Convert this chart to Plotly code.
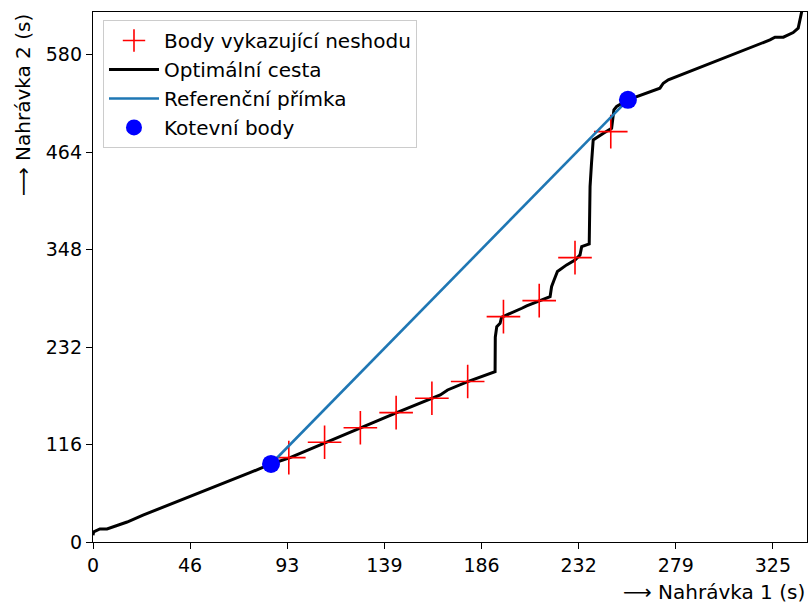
import plotly.graph_objects as go

# Optimal path (black)
path_x = [0, 0.3, 3.3, 6.7, 16.3, 23.9, 75.0, 85.1, 94.2, 128.0, 145.2, 166.0, 168.0, 169.5,
          179.1, 192.2, 192.3, 193.0, 194.6, 195.3, 205.0, 207.3, 218.5, 219.2, 220.4, 222.0,
          226.4, 230.4, 232.8, 233.6, 237.2, 237.6, 238.3, 239.1, 244.0, 247.9, 249.0, 250.3,
          255.7, 271.0, 272.6, 275.0, 323.6, 326.0, 330.0, 334.7, 337.1, 337.9, 338.7, 339.5]
path_y = [8, 12, 15.5, 15.5, 23.8, 32, 82.5, 92.9, 100.4, 136.1, 154.0, 175.0, 178.0, 181.0,
          191.0, 202.8, 243.8, 256.4, 260.4, 267.6, 278.3, 281.0, 292.1, 304.0, 312.0, 322.0,
          329.9, 335.8, 341.8, 351.7, 354.9, 423.2, 451.0, 478.7, 486.7, 492.6, 514.5, 518.5,
          526.4, 540.3, 546.2, 550.2, 597.8, 601.0, 601.0, 606.5, 611.8, 621.6, 629.6, 640.0]

# Mismatch points (red crosses)
mis_x = [93.6, 110.7, 127.8, 144.9, 162.0, 179.1, 196.2, 213.3, 230.4, 247.5]
mis_y = [100.4, 118.7, 136.1, 154.0, 171.1, 191.0, 268.3, 287.4, 338.6, 488.6]

# Anchor points
anc_x = [85.1, 255.7]
anc_y = [92.9, 526.4]

x_tickvals = [i * 325 / 7 for i in range(8)]
x_ticktext = ["0", "46", "93", "139", "186", "232", "279", "325"]
y_tickvals = [0, 116, 232, 348, 464, 580]

FONT = "DejaVu Sans"
FS_TICK = 19
FS = 20

fig = go.Figure()
fig.add_trace(go.Scatter(x=path_x, y=path_y, mode="lines", name="Optimální cesta",
                         line=dict(color="black", width=3), legendrank=2))
fig.add_trace(go.Scatter(x=mis_x, y=mis_y, mode="markers", name="Body vykazující neshodu",
                         marker=dict(symbol="cross-thin", size=24, color="red",
                                     line=dict(color="red", width=1.6)), legendrank=1))
fig.add_trace(go.Scatter(x=anc_x, y=anc_y, mode="lines", name="Referenční přímka",
                         line=dict(color="#1f77b4", width=2.6), legendrank=3))
fig.add_trace(go.Scatter(x=anc_x, y=anc_y, mode="markers", name="Kotevní body",
                         marker=dict(symbol="circle", size=18, color="blue"), legendrank=4))

axis_common = dict(showgrid=False, zeroline=False, showline=True, linecolor="black",
                   linewidth=1.3, mirror=True, ticks="outside", ticklen=6, tickwidth=1.3,
                   tickcolor="black", tickfont=dict(family=FONT, size=FS_TICK, color="black"))

fig.update_xaxes(range=[0, 341.3], tickvals=x_tickvals, ticktext=x_ticktext, **axis_common)
fig.update_yaxes(range=[0, 631], tickvals=y_tickvals, **axis_common)

fig.update_layout(
    width=810, height=605,
    margin=dict(l=93, r=3, t=12, b=63),
    paper_bgcolor="white", plot_bgcolor="white",
    font=dict(family=FONT, size=FS, color="black"),
    showlegend=True,
    legend=dict(x=0.014, y=0.985, xanchor="left", yanchor="top",
                bgcolor="rgba(255,255,255,0.8)", bordercolor="#cccccc", borderwidth=1,
                font=dict(family=FONT, size=FS, color="black"), itemwidth=50,
                tracegroupgap=0),
    annotations=[
        dict(text="⟶ Nahrávka 1 (s)", xref="paper", yref="paper", x=1.0, y=-50 / 530,
             xanchor="right", yanchor="middle", showarrow=False,
             font=dict(family=FONT, size=FS, color="black")),
        dict(text="⟶ Nahrávka 2 (s)", xref="paper", yref="paper", x=-70 / 714, y=1.0,
             xanchor="center", yanchor="top", textangle=-90, showarrow=False,
             font=dict(family=FONT, size=FS, color="black")),
    ],
)

fig.write_html("out.html")
